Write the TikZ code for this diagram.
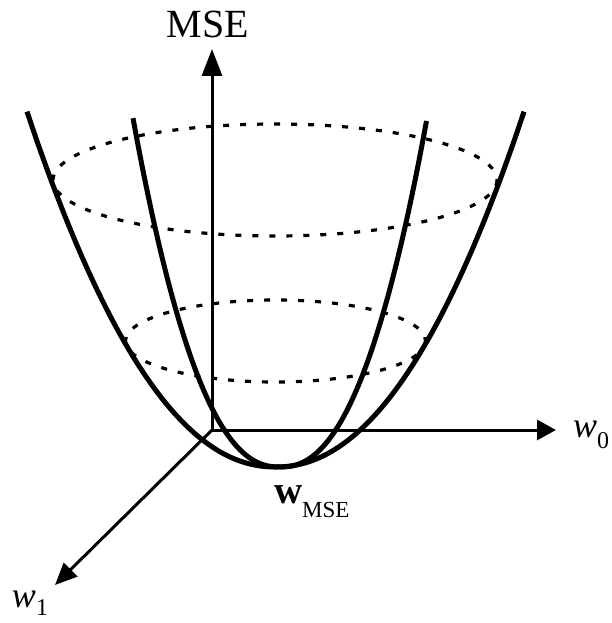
\documentclass[tikz,border=0pt]{standalone}
\usepackage{fontspec}
\setmainfont{Liberation Serif}
\usetikzlibrary{arrows.meta}
\begin{document}
\begin{tikzpicture}[x=1pt,y=-1pt,
  curve/.style={line width=5pt},
  axis/.style={line width=3pt},
  contour/.style={line width=3.2pt, dash pattern=on 6pt off 11pt},
  lab/.style={inner sep=0pt, outer sep=0pt}]
\useasboundingbox (0,0) rectangle (612,623);
% contour ellipses
\draw[contour] (275,180) ellipse [x radius=222, y radius=56];
\draw[contour] (275.5,341) ellipse [x radius=150, y radius=41];
% axes
\coordinate (O) at (212,430);
\coordinate (Ytip) at (212,49);
\coordinate (Xtip) at (556,430);
\coordinate (Ztip) at (55,585);
\draw[axis,-{Triangle[length=27pt,width=20pt]}] (O) -- (Ytip);
\draw[axis,-{Triangle[length=19pt,width=20pt]}] (O) -- (Xtip);
\draw[axis,-{Triangle[length=22pt,width=19pt]}] (O) -- (Ztip);
% bowl cross-sections
\draw[curve] plot[domain=-248.5:248.5, samples=100, smooth] ({275.5+\x},{467-(abs(\x)/15.16)^2.1});
\draw[curve] plot[domain=-147:146.5, samples=100, smooth] ({280+\x},{467-(abs(\x)/11.67)^2.311});
% labels
\node[lab, anchor=base] (mse) at (208,38) {\fontsize{40}{40}\selectfont MSE};
\node[lab, anchor=base west] (w0) at (573,437) {\fontsize{36}{36}\selectfont\itshape w\raisebox{-11pt}{\fontsize{24}{24}\selectfont\upshape 0}};
\node[lab, anchor=base west] (w1) at (12,607) {\fontsize{36}{36}\selectfont\itshape w\raisebox{-8pt}{\fontsize{24}{24}\selectfont\upshape 1}};
\node[lab, anchor=base west] (wmse) at (274,503) {\fontsize{39}{39}\selectfont\bfseries w\raisebox{-14pt}{\fontsize{23}{23}\selectfont\mdseries MSE}};
\end{tikzpicture}
\end{document}
